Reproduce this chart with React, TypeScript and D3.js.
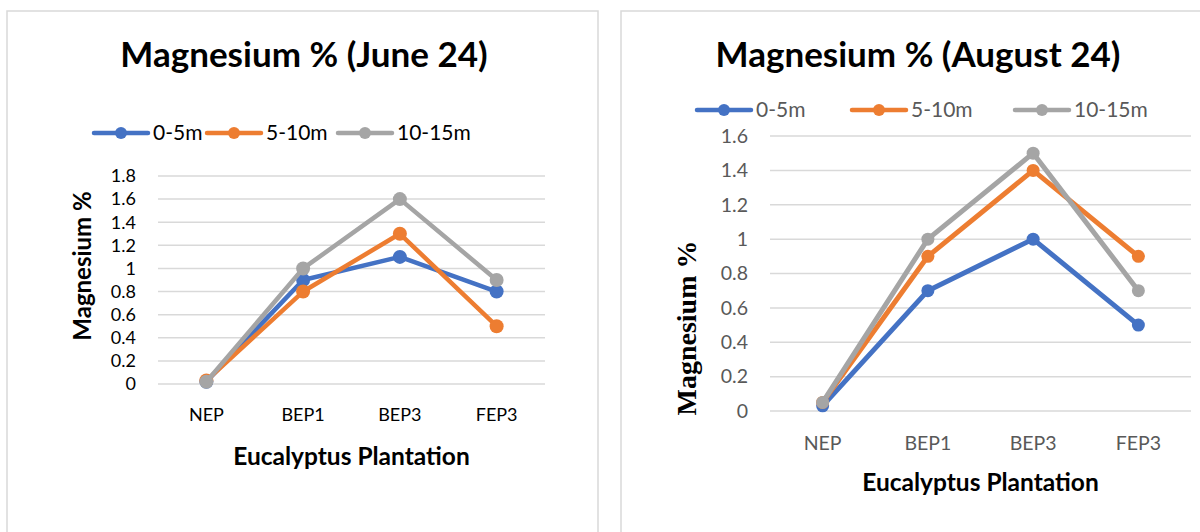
import React from "react";
import * as d3 from "d3";

// Sampling sites along the plantation gradient
const categories = ["NEP", "BEP1", "BEP3", "FEP3"];

// Distance bands from the plantation edge
const seriesNames = ["0-5m", "5-10m", "10-15m"];
const seriesColors = ["#4472C4", "#ED7D31", "#A5A5A5"];

// Magnesium % — June 24
const june0to5 = [0.02, 0.9, 1.1, 0.8];
const june5to10 = [0.03, 0.8, 1.3, 0.5];
const june10to15 = [0.02, 1.0, 1.6, 0.9];
const juneTicks = [0, 0.2, 0.4, 0.6, 0.8, 1, 1.2, 1.4, 1.6, 1.8];

// Magnesium % — August 24
const aug0to5 = [0.03, 0.7, 1.0, 0.5];
const aug5to10 = [0.05, 0.9, 1.4, 0.9];
const aug10to15 = [0.05, 1.0, 1.5, 0.7];
const augTicks = [0, 0.2, 0.4, 0.6, 0.8, 1, 1.2, 1.4, 1.6];

const SANS = "Lato, 'Open Sans', sans-serif";
const SERIF = "'Liberation Serif', 'DejaVu Serif', serif";

type PanelSpec = {
  title: string;
  titleX: number;
  titleY: number;
  titleSize: number;
  frame: { x: number; y: number; w: number; h: number };
  plot: { left: number; right: number; top: number; bottom: number };
  yMax: number;
  ticks: number[];
  series: number[][];
  tickColor: string;
  tickSize: number;
  tickX: number;
  catY: number;
  xTitleY: number;
  xTitleSize: number;
  yTitleX: number;
  yTitleY: number;
  yTitleFont: string;
  yTitleSize: number;
  legendY: number;
  legendX: number[];
  legendColor: string;
  legendSize: number;
  lineWidth: number;
  markerR: number;
};

function Panel({ p }: { p: PanelSpec }) {
  const x = d3
    .scaleBand<string>()
    .domain(categories)
    .range([p.plot.left, p.plot.right]);
  const y = d3
    .scaleLinear()
    .domain([0, p.yMax])
    .range([p.plot.bottom, p.plot.top]);
  const cx = (c: string) => (x(c) as number) + x.bandwidth() / 2;
  const line = d3
    .line<number>()
    .x((_, i) => cx(categories[i]))
    .y((v) => y(v));
  const fmt = (v: number) => String(+v.toFixed(1));
  const xMid = (p.plot.left + p.plot.right) / 2;

  return (
    <g>
      <rect
        x={p.frame.x}
        y={p.frame.y}
        width={p.frame.w}
        height={p.frame.h}
        fill="#fff"
        stroke="#D9D9D9"
        strokeWidth={1.5}
      />
      <text
        x={p.titleX}
        y={p.titleY}
        textAnchor="middle"
        fontFamily={SANS}
        fontWeight={700}
        fontSize={p.titleSize}
        fill="#000"
      >
        {p.title}
      </text>

      {/* legend */}
      {seriesNames.map((name, i) => (
        <g key={name} transform={`translate(${p.legendX[i]},${p.legendY})`}>
          <line
            x1={0}
            x2={54}
            y1={0}
            y2={0}
            stroke={seriesColors[i]}
            strokeWidth={4.5}
            strokeLinecap="round"
          />
          <circle cx={27} cy={0} r={6} fill={seriesColors[i]} />
          <text
            x={59}
            y={0}
            dy="0.35em"
            fontFamily={SANS}
            fontSize={p.legendSize}
            fill={p.legendColor}
          >
            {name}
          </text>
        </g>
      ))}

      {/* gridlines and value axis labels */}
      {p.ticks.map((t) => (
        <g key={t}>
          <line
            x1={p.plot.left}
            x2={p.plot.right}
            y1={y(t)}
            y2={y(t)}
            stroke="#D9D9D9"
            strokeWidth={1.5}
          />
          <text
            x={p.tickX}
            y={y(t)}
            dy="0.35em"
            textAnchor="end"
            fontFamily={SANS}
            fontSize={p.tickSize}
            fill={p.tickColor}
          >
            {fmt(t)}
          </text>
        </g>
      ))}

      {/* category labels */}
      {categories.map((c) => (
        <text
          key={c}
          x={cx(c)}
          y={p.catY}
          dy="0.35em"
          textAnchor="middle"
          fontFamily={SANS}
          fontSize={p.tickSize}
          fill={p.tickColor}
        >
          {c}
        </text>
      ))}

      <text
        x={xMid}
        y={p.xTitleY}
        dy="0.35em"
        textAnchor="middle"
        fontFamily={SANS}
        fontWeight={700}
        fontSize={p.xTitleSize}
        fill="#000"
      >
        Eucalyptus Plantation
      </text>
      <text
        transform={`translate(${p.yTitleX},${p.yTitleY}) rotate(-90)`}
        dy="0.35em"
        textAnchor="middle"
        fontFamily={p.yTitleFont}
        fontWeight={700}
        fontSize={p.yTitleSize}
        fill="#000"
      >
        Magnesium %
      </text>

      {/* series */}
      {p.series.map((vals, i) => (
        <g key={seriesNames[i]}>
          <path
            d={line(vals) || ""}
            fill="none"
            stroke={seriesColors[i]}
            strokeWidth={p.lineWidth}
            strokeLinejoin="round"
            strokeLinecap="round"
          />
          {vals.map((v, j) => (
            <circle
              key={j}
              cx={cx(categories[j])}
              cy={y(v)}
              r={p.markerR}
              fill={seriesColors[i]}
            />
          ))}
        </g>
      ))}
    </g>
  );
}

const junePanel: PanelSpec = {
  title: "Magnesium % (June 24)",
  titleX: 304,
  titleY: 67,
  titleSize: 35,
  frame: { x: 7, y: 11, w: 591, h: 540 },
  plot: { left: 158, right: 545, top: 176, bottom: 384 },
  yMax: 1.8,
  ticks: juneTicks,
  series: [june0to5, june5to10, june10to15],
  tickColor: "#000",
  tickSize: 18,
  tickX: 136,
  catY: 415,
  xTitleY: 456,
  xTitleSize: 24.5,
  yTitleX: 83,
  yTitleY: 266,
  yTitleFont: SANS,
  yTitleSize: 24,
  legendY: 133,
  legendX: [94, 207, 338],
  legendColor: "#000",
  legendSize: 21,
  lineWidth: 4.5,
  markerR: 7,
};

const augPanel: PanelSpec = {
  title: "Magnesium % (August 24)",
  titleX: 918,
  titleY: 67,
  titleSize: 35,
  frame: { x: 621, y: 11, w: 620, h: 540 },
  plot: { left: 770, right: 1191, top: 136, bottom: 411 },
  yMax: 1.6,
  ticks: augTicks,
  series: [aug0to5, aug5to10, aug10to15],
  tickColor: "#595959",
  tickSize: 19.5,
  tickX: 748,
  catY: 443,
  xTitleY: 482,
  xTitleSize: 24.5,
  yTitleX: 686,
  yTitleY: 328,
  yTitleFont: SERIF,
  yTitleSize: 28,
  legendY: 110,
  legendX: [697, 852, 1015],
  legendColor: "#595959",
  legendSize: 21,
  lineWidth: 5,
  markerR: 6.5,
};

export default function App() {
  return (
    <svg
      width={1200}
      height={532}
      viewBox="0 0 1200 532"
      style={{ position: "absolute", left: 0, top: 0, background: "#fff" }}
    >
      <rect x={0} y={0} width={1200} height={532} fill="#fff" />
      <Panel p={junePanel} />
      <Panel p={augPanel} />
    </svg>
  );
}
